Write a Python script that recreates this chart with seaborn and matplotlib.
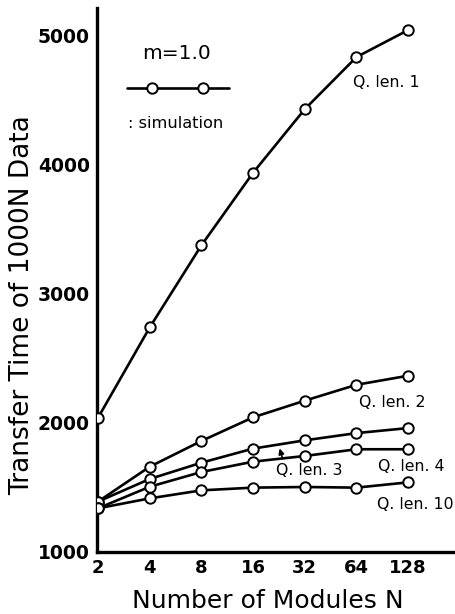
import numpy as np
import pandas as pd
import matplotlib
matplotlib.use("Agg")
import matplotlib.pyplot as plt
import seaborn as sns

# values
modules = [2, 4, 8, 16, 32, 64, 128]
qlen1 = [2039, 2738, 3373, 3935, 4427, 4830, 5039]
qlen2 = [1390, 1660, 1859, 2042, 2171, 2294, 2364]
qlen3 = [1390, 1565, 1691, 1800, 1864, 1920, 1959]
qlen4 = [1338, 1505, 1619, 1699, 1743, 1795, 1795]
qlen10 = [1338, 1415, 1477, 1498, 1503, 1498, 1539]
series_names = ["Q. len. 1", "Q. len. 2", "Q. len. 3", "Q. len. 4", "Q. len. 10"]
y_ticks = [1000, 2000, 3000, 4000, 5000]

df = pd.DataFrame({
    "N": modules * 5,
    "time": qlen1 + qlen2 + qlen3 + qlen4 + qlen10,
    "queue": np.repeat(series_names, len(modules)),
})

sns.set_style("white", {"text.color": "black", "axes.labelcolor": "black",
                        "xtick.color": "black", "ytick.color": "black"})
plt.rcParams['font.family'] = ['DejaVu Sans']

fig = plt.figure(figsize=(4.55, 6.14), dpi=100)
ax = fig.add_axes([0.213, 0.101, 0.787, 0.886])

mk = dict(marker="o", markersize=7.5, markerfacecolor="white",
          markeredgecolor="black", markeredgewidth=1.4)
sns.lineplot(data=df, x="N", y="time", hue="queue", palette=["black"] * 5,
             linewidth=1.9, legend=False, ax=ax, zorder=3, **mk)

ax.set_xscale("log", base=2)
ax.set_xlim(1.97, 240)
ax.set_ylim(1000, 5210)
ax.set_xticks(modules)
ax.set_xticklabels([str(m) for m in modules], fontsize=13, fontweight="bold")
ax.minorticks_off()
ax.set_yticks(y_ticks)
ax.set_yticklabels([str(t) for t in y_ticks], fontsize=13.5, fontweight="bold")
ax.tick_params(axis="both", direction="in", length=6, width=1.3, pad=5)
ax.set_xlabel("")
ax.set_ylabel("")

for s in ["top", "right"]:
    ax.spines[s].set_visible(False)
for s in ["left", "bottom"]:
    ax.spines[s].set_linewidth(2.4)
    ax.spines[s].set_color("black")

fig.text(268 / 455, 1 - 601 / 614, "Number of Modules N", fontsize=18,
         ha="center", va="center")
fig.text(22 / 455, 1 - 305 / 614, "Transfer Time of 1000N Data", fontsize=19,
         rotation=90, ha="center", va="center")

# series labels
ax.text(95, 4636, "Q. len. 1", fontsize=11.3, ha="center", va="center")
ax.text(104, 2153, "Q. len. 2", fontsize=11.3, ha="center", va="center")
ax.text(34.2, 1627, "Q. len. 3", fontsize=11.3, ha="center", va="center")
ax.text(133, 1658, "Q. len. 4", fontsize=11.3, ha="center", va="center")
ax.text(140, 1371, "Q. len. 10", fontsize=11.3, ha="center", va="center")
ax.annotate("", xy=(22.6, 1822), xytext=(23.9, 1712),
            arrowprops=dict(arrowstyle="-|>", color="black", lw=1.2,
                            mutation_scale=8))

# key in the upper left corner
ax.text(5.73, 4860, "m=1.0", fontsize=14.5, ha="center", va="center")
ax.plot([2.94, 11.6], [4590, 4590], color="black", lw=1.9)
ax.plot([4.11, 8.2], [4590, 4590], lw=0, **mk)
ax.text(3.0, 4319, ": simulation", fontsize=11.7, ha="left", va="center")

fig.savefig("out.png", dpi=100, facecolor="white")
